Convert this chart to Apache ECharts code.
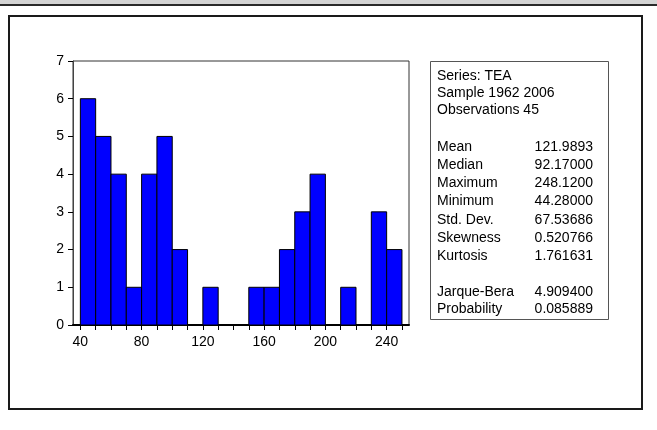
<!DOCTYPE html>
<html>
<head>
<meta charset="utf-8">
<script src="https://cdn.jsdelivr.net/npm/echarts@6/dist/echarts.min.js"></script>
<style>
html,body{margin:0;padding:0;background:#fff;}
#chart{width:657px;height:430px;}
</style>
</head>
<body>
<div id="chart"></div>
<script>
// Histogram bins (lower edge) and counts
const binStarts = [40, 50, 60, 70, 80, 90, 100, 110, 120, 130, 140, 150, 160, 170, 180, 190, 200, 210, 220, 230, 240];
const binWidth = 10;
const counts = [6, 5, 4, 1, 4, 5, 2, 0, 1, 0, 0, 1, 1, 2, 3, 4, 0, 1, 0, 3, 2];
const xTickValues = [40, 50, 60, 70, 80, 90, 100, 110, 120, 130, 140, 150, 160, 170, 180, 190, 200, 210, 220, 230, 240, 250];
const xLabelValues = [40, 80, 120, 160, 200, 240];
const yTickValues = [0, 1, 2, 3, 4, 5, 6, 7];

// Statistics box text
const headerLines = ['Series: TEA', 'Sample 1962 2006', 'Observations 45'];
const statLabels = ['Mean', 'Median', 'Maximum', 'Minimum', 'Std. Dev.', 'Skewness', 'Kurtosis'];
const statValues = ['121.9893', '92.17000', '248.1200', '44.28000', '67.53686', '0.520766', '1.761631'];
const testLabels = ['Jarque-Bera', 'Probability'];
const testValues = ['4.909400', '0.085889'];

const FONT = '"Liberation Sans", Arial, sans-serif';
const chart = echarts.init(document.getElementById('chart'), null, {renderer: 'canvas'});

const data = binStarts.map((s, i) => [s, s + binWidth, counts[i]]);

const graphics = [];
// top gray band
graphics.push({type: 'rect', shape: {x: 0, y: 0, width: 657, height: 4}, style: {fill: '#d4d4d4'}, silent: true});
graphics.push({type: 'rect', shape: {x: 0, y: 4, width: 657, height: 2}, style: {fill: '#2a2a2a'}, silent: true});
// outer frame
graphics.push({type: 'rect', shape: {x: 9, y: 16, width: 633, height: 393}, style: {fill: 'none', stroke: '#1a1a1a', lineWidth: 2}, silent: true});
// stats box
graphics.push({type: 'rect', shape: {x: 430.5, y: 61.5, width: 178, height: 258}, style: {fill: '#fff', stroke: '#555', lineWidth: 1}, silent: true});
const textLeft = 437;
const valueRight = 593;
function addText(txt, x, y, align) {
  graphics.push({type: 'text', x: x, y: y, silent: true,
    style: {text: txt, fill: '#000', font: '14px ' + FONT, align: align, verticalAlign: 'middle'}});
}
headerLines.forEach((t, i) => addText(t, textLeft, 76 + i * 17.2, 'left'));
statLabels.forEach((t, i) => {
  addText(t, textLeft, 147 + i * 18.2, 'left');
  addText(statValues[i], valueRight, 147 + i * 18.2, 'right');
});
testLabels.forEach((t, i) => {
  addText(t, textLeft, 292 + i * 17.5, 'left');
  addText(testValues[i], valueRight, 292 + i * 17.5, 'right');
});

chart.setOption({
  animation: false,
  backgroundColor: '#ffffff',
  grid: {left: 73, top: 61, right: 248, bottom: 105, show: true, borderColor: '#333', borderWidth: 1, backgroundColor: 'transparent'},
  xAxis: {
    type: 'value', min: 35.2, max: 254.6,
    axisLine: {show: true, onZero: false, lineStyle: {color: '#000', width: 2}},
    axisTick: {show: true, customValues: xTickValues, length: 5, inside: false, lineStyle: {color: '#000'}},
    axisLabel: {customValues: xLabelValues, color: '#000', fontSize: 14, fontFamily: FONT, margin: 10},
    splitLine: {show: false}
  },
  yAxis: {
    type: 'value', min: 0, max: 7, interval: 1,
    axisLine: {show: true, lineStyle: {color: '#444', width: 1}},
    axisTick: {show: true, length: 5, lineStyle: {color: '#000'}},
    axisLabel: {color: '#000', fontSize: 14, fontFamily: FONT, margin: 9},
    splitLine: {show: false}
  },
  series: [{
    type: 'custom',
    data: data,
    encode: {x: [0, 1], y: 2},
    renderItem: function (params, api) {
      const h = api.value(2);
      if (!h) return null;
      const p0 = api.coord([api.value(0), h]);
      const p1 = api.coord([api.value(1), 0]);
      return {
        type: 'rect',
        shape: {x: p0[0], y: p0[1], width: p1[0] - p0[0], height: p1[1] - p0[1]},
        style: {fill: '#0000ff', stroke: '#000', lineWidth: 1}
      };
    }
  }],
  graphic: graphics
});
</script>
</body>
</html>
